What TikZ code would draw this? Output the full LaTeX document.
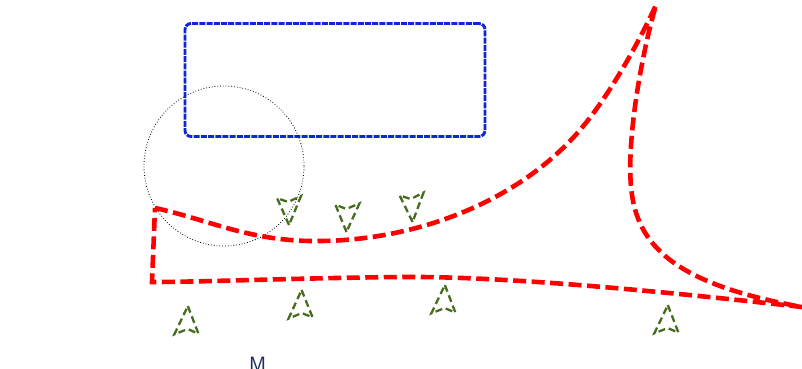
\documentclass[tikz,border=0pt]{standalone}
\usepackage{tikz}
\usetikzlibrary{positioning}
\definecolor{zoneblue}{HTML}{1024D8}
\definecolor{routered}{HTML}{FF0000}
\definecolor{dartgreen}{HTML}{476C1E}
\definecolor{labelnavy}{HTML}{1E2D5C}
\tikzset{
  zonebox/.style={
    rectangle, rounded corners=6pt, draw=zoneblue, line width=2.9pt,
    dash pattern=on 6pt off 1.2pt, minimum width=300pt, minimum height=113pt,
    inner sep=0pt
  },
  rangecircle/.style={
    circle, draw=black, dotted, line width=0.8pt,
    minimum size=160pt, inner sep=0pt
  },
  routeline/.style={
    draw=routered, line width=4.6pt, dash pattern=on 13pt off 5.5pt
  },
  dartline/.style={
    draw=dartgreen, line width=2.3pt, dash pattern=on 7pt off 4pt
  },
  dart/.pic={
    \draw[dartline] (0,-16) -- (12,11) -- (1,7) -- (-12,13) -- cycle;
  },
}
\begin{document}
\begin{tikzpicture}[x=1pt, y=-1pt]
  \useasboundingbox (0,0) rectangle (802,368);

  \node[zonebox] (zone) at (335,80) {};
  \node[rangecircle] (range) at (224,166) {};

  % route outline
  \path[routeline] (155,208)
    .. controls (210,220) and (250,242) .. (320,241)
    .. controls (420,240) and (520,200) .. (580,130)
    .. controls (610,95) and (640,40) .. (656,5)
    .. controls (640,60) and (625,150) .. (632,195)
    .. controls (640,249) and (680,285) .. (802,307)
    .. controls (650,290) and (500,276) .. (400,277)
    .. controls (300,278) and (200,282) .. (152,282)
    -- cycle;

  % vehicles above the route
  \pic[rotate=180] at (289,209) {dart};
  \pic[rotate=178] at (347,216) {dart};
  \pic[rotate=182] at (412,206) {dart};

  % vehicles below the route
  \pic[rotate=-3] at (187,322) {dart};
  \pic[rotate=-2] at (301,306) {dart};
  \pic[rotate=-3] at (444,301) {dart};
  \pic[rotate=-3] at (667,321) {dart};

  \node[font=\sffamily\huge, text=labelnavy, anchor=north west, inner sep=0pt]
    (caption) at (249,357) {M};
\end{tikzpicture}
\end{document}
